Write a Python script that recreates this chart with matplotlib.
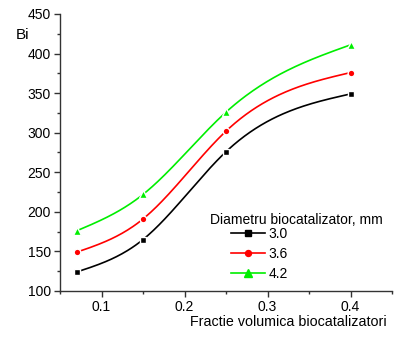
import numpy as np
import matplotlib
matplotlib.use("Agg")
import matplotlib.pyplot as plt
from matplotlib.ticker import MultipleLocator

plt.rcParams["font.family"] = ["Liberation Sans", "DejaVu Sans"]

# volume fraction of biocatalyst and Biot number for each particle diameter
fraction = [0.07, 0.15, 0.25, 0.40]
bi_30 = [124, 165, 276, 349]
bi_36 = [149, 191, 302, 376]
bi_42 = [176, 222, 326, 411]
diameters = ["3.0", "3.6", "4.2"]


def spline(x, y, n=200):
    # natural cubic spline through the points
    x = np.asarray(x, float)
    y = np.asarray(y, float)
    npts = len(x)
    h = np.diff(x)
    A = np.zeros((npts, npts))
    b = np.zeros(npts)
    A[0, 0] = A[-1, -1] = 1
    for i in range(1, npts - 1):
        A[i, i - 1] = h[i - 1]
        A[i, i] = 2 * (h[i - 1] + h[i])
        A[i, i + 1] = h[i]
        b[i] = 6 * ((y[i + 1] - y[i]) / h[i] - (y[i] - y[i - 1]) / h[i - 1])
    M = np.linalg.solve(A, b)
    xs = np.linspace(x[0], x[-1], n)
    k = np.clip(np.searchsorted(x, xs) - 1, 0, npts - 2)
    a = x[k + 1] - xs
    c = xs - x[k]
    hk = h[k]
    ys = (M[k] * a**3 + M[k + 1] * c**3) / (6 * hk) \
        + (y[k] / hk - M[k] * hk / 6) * a + (y[k + 1] / hk - M[k + 1] * hk / 6) * c
    return xs, ys


fig = plt.figure(figsize=(3.95, 3.38), dpi=100)
ax = fig.add_axes([60 / 395, 1 - 291 / 338, 332 / 395, 277 / 338])

styles = [("black", "s", bi_30), ("red", "o", bi_36), ("#00ee00", "^", bi_42)]
for (color, marker, vals), label in zip(styles, diameters):
    xs, ys = spline(fraction, vals)
    ax.plot(xs, ys, color=color, lw=1.2, zorder=2)
    ax.plot(fraction, vals, linestyle="none", marker=marker, color=color,
            markersize=6 if marker == "^" else 4.8,
            markeredgecolor="white", markeredgewidth=1.0, zorder=3)
    ax.plot([], [], color=color, lw=1.2, marker=marker,
            markersize=5.5 if marker == "^" else 4.3, label=label)

ax.set_xlim(0.05, 0.45)
ax.set_ylim(100, 450)
ax.xaxis.set_minor_locator(MultipleLocator(0.05))
ax.yaxis.set_major_locator(MultipleLocator(50))
ax.yaxis.set_minor_locator(MultipleLocator(25))
ax.set_xticks([0.1, 0.2, 0.3, 0.4])
ax.set_xticklabels(["0.1", "0.2", "0.3", "0.4"])

for side in ("top", "right"):
    ax.spines[side].set_visible(False)
for side in ("left", "bottom"):
    ax.spines[side].set_color("#333333")
    ax.spines[side].set_linewidth(1.0)
ax.tick_params(which="major", direction="out", length=4, width=1.0, labelsize=10,
               color="#333333", pad=2.5)
ax.tick_params(which="minor", direction="out", length=2.5, width=1.0, color="#333333")

fig.text(16 / 395, 1 - 35 / 338, "Bi", fontsize=11, va="center", ha="left")
fig.text(387 / 395, 1 - 322 / 338, "Fractie volumica biocatalizatori", fontsize=10.3,
         va="center", ha="right")

# legend title sits left of the indented entries
fig.text(210 / 395, 1 - 220 / 338, "Diametru biocatalizator, mm", fontsize=10,
         va="center", ha="left")
ax.legend(loc="upper left", bbox_to_anchor=(231 / 395, 1 - 227 / 338),
          bbox_transform=fig.transFigure, frameon=False, fontsize=10,
          handlelength=2.45, handletextpad=0.25, labelspacing=0.42,
          borderpad=0, borderaxespad=0)

fig.savefig("out.png", dpi=100)
